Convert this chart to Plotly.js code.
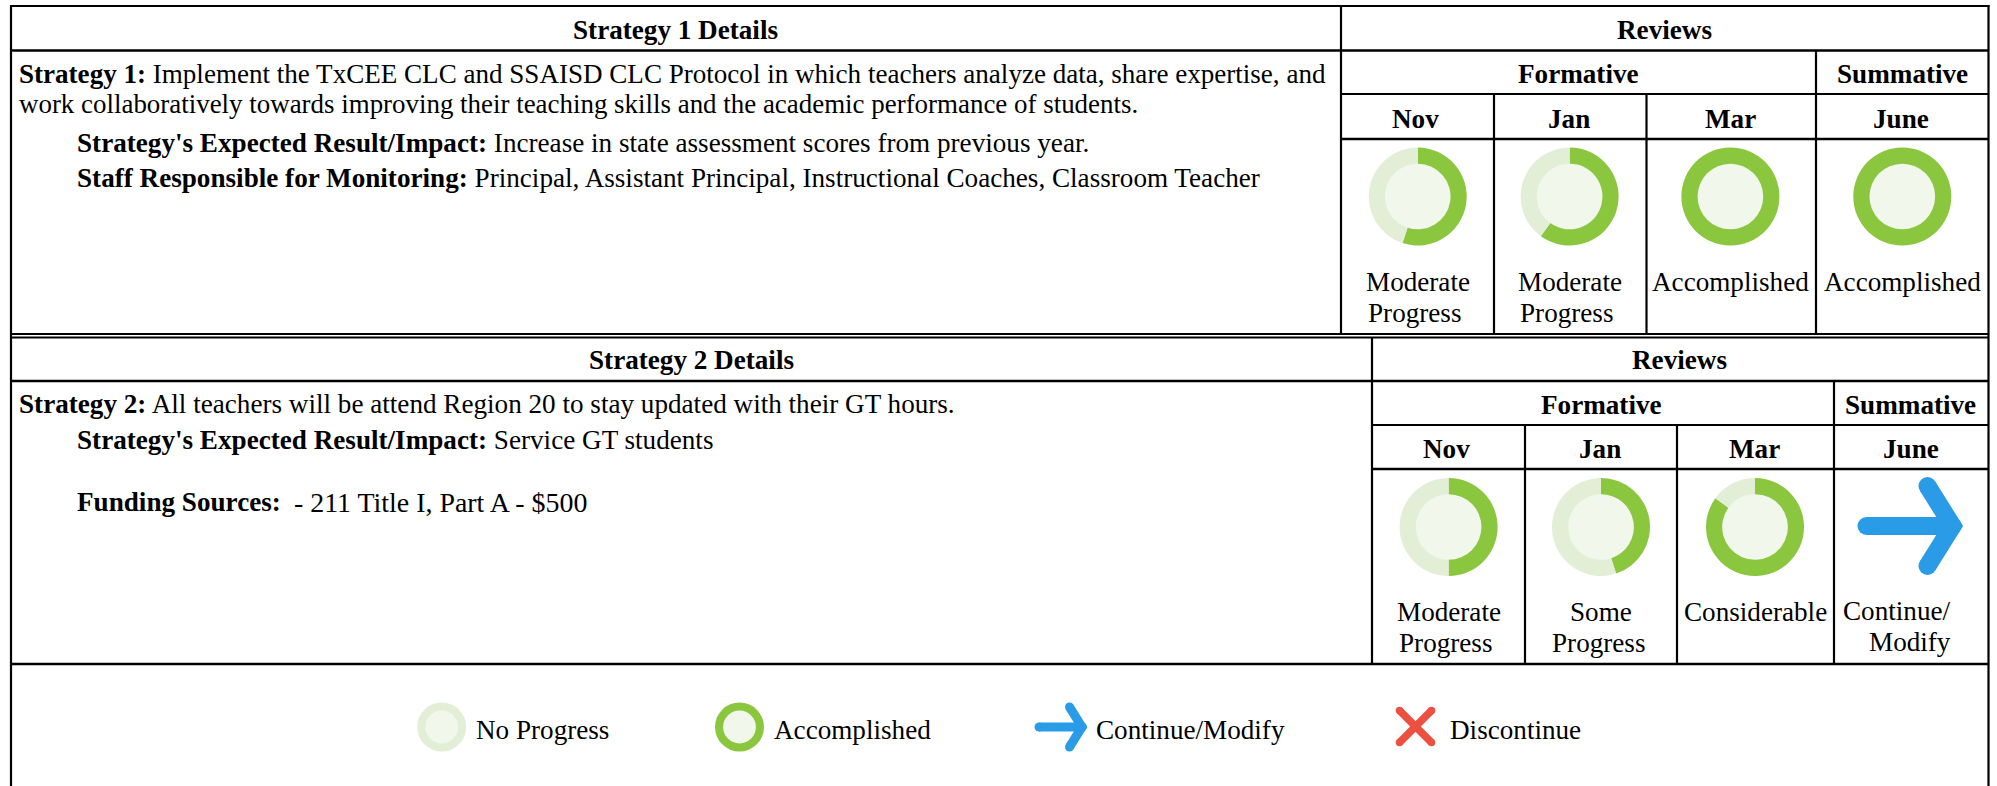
<!DOCTYPE html>
<html>
<head>
<meta charset="utf-8">
<script src="https://cdn.plot.ly/plotly-3.0.1.min.js"></script>
<style>html,body{margin:0;padding:0;background:#fff}#chart{width:1997px;height:786px}</style>
</head>
<body>
<div id="chart"></div>
<script>
// ---- content ----
var strategy1Lead = "Strategy 1:";
var strategy1Line1 = "Implement the TxCEE CLC and SSAISD CLC Protocol in which teachers analyze data, share expertise, and";
var strategy1Line2 = "work collaboratively towards improving their teaching skills and the academic performance of students.";
var strategy1Result = "Increase in state assessment scores from previous year.";
var strategy1Staff = "Principal, Assistant Principal, Instructional Coaches, Classroom Teacher";
var strategy2Lead = "Strategy 2:";
var strategy2Line1 = "All teachers will be attend Region 20 to stay updated with their GT hours.";
var strategy2Result = "Service GT students";
var strategy2Funding = "- 211 Title I, Part A - $500";
var months = ["Nov", "Jan", "Mar", "June"];
var strategy1Progress = [55, 60, 100, 100];
var strategy2Progress = [50, 45, 85];
var strategy1Labels = [["Moderate", "Progress"], ["Moderate", "Progress"], ["Accomplished"], ["Accomplished"]];
var strategy2Labels = [["Moderate", "Progress"], ["Some", "Progress"], ["Considerable"]];
var legendLabels = ["No Progress", "Accomplished", "Continue/Modify", "Discontinue"];
var legendProgress = [0, 100];

// ---- geometry and style ----
var W = 1997, H = 786, FS = 27.15, R = 1988.5;
var GREEN = "#8BC63F", PALE = "#E2EFD6", INNER = "#F1F7EB", BLUE = "#2A9BE6", RED = "#EC5040";
var FONT = "'Liberation Serif','Times New Roman',serif";
var traces = [], shapes = [], annotations = [];

function hline(y, x0, x1, w) { shapes.push({type:"line", xref:"x", yref:"y", x0:x0, x1:x1, y0:y, y1:y, line:{color:"#000", width:w||2.2}}); }
function vline(x, y0, y1, w) { shapes.push({type:"line", xref:"x", yref:"y", x0:x, x1:x, y0:y0, y1:y1, line:{color:"#000", width:w||2.2}}); }
function label(x, y, text, anchor, size) {
  annotations.push({xref:"x", yref:"y", x:x, y:y, text:text, showarrow:false, xanchor:anchor||"center", yanchor:"middle",
    borderpad:0, borderwidth:0, font:{family:FONT, size:size||FS, color:"#000"}});
}
function donut(cx, cy, r, pct) {
  shapes.push({type:"circle", layer:"below", xref:"x", yref:"y", x0:cx-r*0.68, x1:cx+r*0.68, y0:cy-r*0.68, y1:cy+r*0.68, fillcolor:INNER, line:{width:0}});
  traces.push({type:"pie", values:[pct, 100-pct], sort:false, direction:"clockwise", rotation:0, hole:0.67,
    textinfo:"none", hoverinfo:"skip", showlegend:false,
    marker:{colors:[GREEN, PALE], line:{width:0}},
    domain:{x:[(cx-r)/W, (cx+r)/W], y:[1-(cy+r)/H, 1-(cy-r)/H]}});
}
function stroked(cx, cy, k, xs, ys, width, color) {
  traces.push({type:"scatter", mode:"lines+markers", hoverinfo:"skip", showlegend:false, connectgaps:false,
    x:xs.map(function(v){return v===null?null:cx+v*k;}), y:ys.map(function(v){return v===null?null:cy+v*k;}),
    line:{color:color, width:width}, marker:{color:color, size:width, line:{width:0}}});
}
function arrow(cx, cy, k, width) {
  stroked(cx, cy, k, [-43,43,null,18,43,18], [0,0,null,-40,0,40], width, BLUE);
}
function reviewLabel(x, y, t, j) { label(t === "Progress" ? x-3 : x, y+31*j, t); }

// outer frame
vline(11, 5, H); vline(R, 5, H);
hline(6, 10, R+1);
// table 1
hline(50.5, 11, R, 2.6); hline(94, 1341, R); hline(139, 1341, R, 2.6); hline(334, 11, R);
vline(1341, 6, 334); vline(1816, 50, 334); vline(1494, 94, 334); vline(1646.5, 94, 334);
// table 2
hline(337.5, 11, R); hline(381, 11, R, 2.6); hline(425, 1372, R); hline(469, 1372, R, 2.6); hline(664, 11, R, 2.4);
vline(1372, 337, 664); vline(1834, 381, 664); vline(1525, 425, 664); vline(1677, 425, 664);

// table 1 text
label(675, 29.5, "<b>Strategy 1 Details</b>");
label(19, 73.5, "<b>"+strategy1Lead+"</b> "+strategy1Line1, "left", 27.07);
label(19, 104, strategy1Line2, "left", 26.93);
label(77, 142.5, "<b>Strategy's Expected Result/Impact:</b> "+strategy1Result, "left");
label(77, 178, "<b>Staff Responsible for Monitoring:</b> "+strategy1Staff, "left");
label(1664, 29.5, "<b>Reviews</b>");
label(1578, 74, "<b>Formative</b>"); label(1902, 74, "<b>Summative</b>");
var t1x = [1417.7, 1569.6, 1730.4, 1902.3];
var t1hdr = [1415, 1569, 1730.4, 1901];
months.forEach(function(m, i){ label(t1hdr[i], 118.5, "<b>"+m+"</b>"); });
strategy1Progress.forEach(function(p, i){
  donut(t1x[i], 196.5, 49, p);
  strategy1Labels[i].forEach(function(t, j){ reviewLabel(t1x[i], 282, t, j); });
});

// table 2 text
label(691, 360, "<b>Strategy 2 Details</b>");
label(19, 404, "<b>"+strategy2Lead+"</b> "+strategy2Line1, "left");
label(77, 440, "<b>Strategy's Expected Result/Impact:</b> "+strategy2Result, "left");
label(77, 502, "<b>Funding Sources:</b>", "left");
label(294, 502, strategy2Funding, "left", 27.9);
label(1679, 360, "<b>Reviews</b>");
label(1601, 405, "<b>Formative</b>"); label(1910, 405, "<b>Summative</b>");
var t2x = [1448.6, 1601, 1755];
var t2hdr = [1446, 1600, 1754, 1910.5];
months.forEach(function(m, i){ label(t2hdr[i], 448.5, "<b>"+m+"</b>"); });
strategy2Progress.forEach(function(p, i){
  donut(t2x[i], 527, 49, p);
  strategy2Labels[i].forEach(function(t, j){ reviewLabel(t2x[i], 612, t, j); });
});
arrow(1909.5, 526, 1, 18);
label(1951, 610.5, "Continue/", "right");
label(1951, 641.5, "Modify", "right");

// legend row
donut(441.7, 727, 24.5, legendProgress[0]);
label(476, 730, legendLabels[0], "left");
donut(739.5, 727, 24.5, legendProgress[1]);
label(774, 730, legendLabels[1], "left");
arrow(1060.5, 727, 0.5, 9);
label(1096, 730, legendLabels[2], "left");
stroked(1415.5, 726.5, 1, [-16,16,null,-16,16], [-16,16,null,16,-16], 7.5, RED);
label(1450, 730, legendLabels[3], "left");

var layout = {
  width:W, height:H, margin:{l:0,r:0,t:0,b:0,pad:0},
  paper_bgcolor:"#fff", plot_bgcolor:"#fff", showlegend:false, hovermode:false,
  xaxis:{range:[0,W], visible:false, fixedrange:true},
  yaxis:{range:[H,0], visible:false, fixedrange:true},
  shapes:shapes, annotations:annotations
};
Plotly.newPlot("chart", traces, layout, {displayModeBar:false, staticPlot:true});
</script>
</body>
</html>
